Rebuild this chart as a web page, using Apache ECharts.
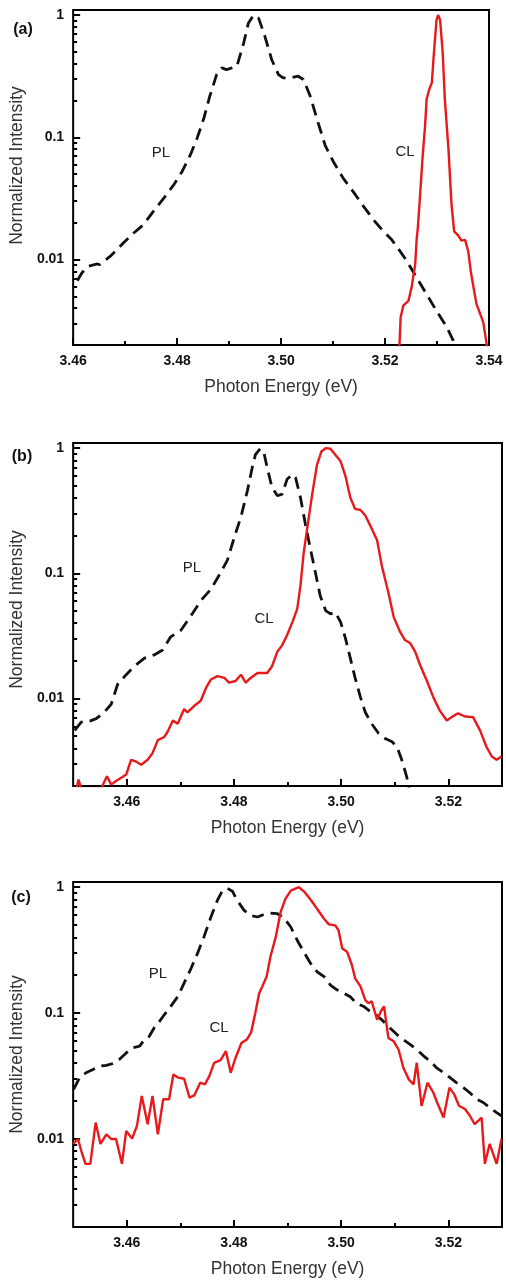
<!DOCTYPE html>
<html>
<head>
<meta charset="utf-8">
<script src="https://cdn.jsdelivr.net/npm/echarts@6/dist/echarts.min.js"></script>
<style>
html,body{margin:0;padding:0;background:#fff;}
#chart{width:506px;height:1281px;}
</style>
</head>
<body>
<div id="chart"></div>
<script>
// ---------- data ----------
const panelLabels = ['(a)', '(b)', '(c)'];
const seriesNames = ['PL', 'CL'];
const xAxisName = 'Photon Energy (eV)';
const yAxisName = 'Normalized Intensity';

const xRangeA = [3.46, 3.54];
const xRangeBC = [3.45, 3.53];
const yRange = [0.002, 1.1];

const xMajorA = [3.46, 3.48, 3.50, 3.52, 3.54];
const xMinorA = [3.47, 3.49, 3.51, 3.53];
const xMajorBC = [3.46, 3.48, 3.50, 3.52];
const xMinorBC = [3.47, 3.49, 3.51];
const yMajor = [0.01, 0.1, 1];
const yMinor = [0.003, 0.004, 0.005, 0.006, 0.007, 0.008, 0.009,
                0.02, 0.03, 0.04, 0.05, 0.06, 0.07, 0.08, 0.09,
                0.2, 0.3, 0.4, 0.5, 0.6, 0.7, 0.8, 0.9];

// Panel (a)
const plEnergyA = [3.4608,3.4617,3.4629,3.4645,3.4651,3.4671,3.4697,3.4716,3.4735,3.4754,3.4774,3.4793,3.4809,3.4825,3.4838,3.4851,3.4863,3.4876,3.4886,3.4895,3.4915,3.4928,3.4937,3.4947,3.4957,3.4969,3.4982,3.4995,3.5004,3.5017,3.5033,3.5043,3.5056,3.5069,3.5085,3.5101,3.5120,3.5139,3.5159,3.5178,3.5197,3.5213,3.5229,3.5242,3.5261,3.5280,3.5299,3.5319,3.5331,3.5336];
const plIntensityA = [0.0067,0.0078,0.0088,0.0092,0.0091,0.0106,0.0137,0.0164,0.0192,0.0247,0.0316,0.0406,0.052,0.071,0.097,0.141,0.218,0.326,0.37,0.358,0.381,0.589,0.856,1.0,0.94,0.667,0.431,0.326,0.306,0.306,0.316,0.297,0.218,0.141,0.0856,0.0627,0.0459,0.0358,0.0271,0.0211,0.017,0.0145,0.0117,0.0097,0.0071,0.0052,0.0038,0.0028,0.00218,0.0018];
const clEnergyA = [3.5226,3.5228,3.5230,3.5235,3.5245,3.5251,3.5258,3.5261,3.5263,3.5267,3.5272,3.5277,3.5280,3.5285,3.5290,3.5294,3.5299,3.5302,3.5306,3.5311,3.5315,3.5322,3.5328,3.5333,3.5341,3.5347,3.5354,3.5360,3.5365,3.5368,3.5376,3.5383,3.5389,3.5395,3.5398];
const clIntensityA = [0.0015,0.0021,0.00336,0.00419,0.00459,0.0059,0.0091,0.015,0.018,0.0316,0.0667,0.124,0.205,0.246,0.279,0.489,0.91,1.0,0.91,0.489,0.205,0.0804,0.0279,0.017,0.0157,0.0143,0.0145,0.0117,0.0080,0.0067,0.0043,0.0036,0.00306,0.0021,0.0015];

// Panel (b)
const plEnergyB = [3.4503,3.4515,3.4531,3.4543,3.4558,3.4571,3.4583,3.4599,3.4614,3.4633,3.4651,3.4667,3.4682,3.4701,3.4720,3.4738,3.4757,3.4775,3.4788,3.4800,3.4813,3.4825,3.4834,3.4840,3.4849,3.4856,3.4862,3.4871,3.4881,3.4890,3.4899,3.4909,3.4915,3.4924,3.4933,3.4943,3.4952,3.4961,3.4971,3.4980,3.4989,3.4999,3.5008,3.5017,3.5026,3.5036,3.5045,3.5057,3.5070,3.5082,3.5095,3.5104,3.5113,3.5122,3.5128];
const plIntensityB = [0.00557,0.00648,0.0066,0.0069,0.00776,0.0090,0.013,0.0155,0.0181,0.021,0.0223,0.0244,0.0311,0.0351,0.046,0.0604,0.0746,0.101,0.128,0.19,0.282,0.456,0.697,0.887,0.99,0.913,0.697,0.485,0.417,0.43,0.564,0.617,0.58,0.404,0.25,0.154,0.101,0.066,0.0504,0.0475,0.0489,0.0408,0.0302,0.021,0.0146,0.0102,0.00776,0.00628,0.00525,0.00479,0.00451,0.00412,0.00324,0.00239,0.0018];
const clEnergyB = [3.4505,3.4510,3.4515,3.4552,3.4563,3.4571,3.4580,3.4589,3.4599,3.4608,3.4617,3.4627,3.4639,3.4648,3.4658,3.4670,3.4676,3.4686,3.4695,3.4707,3.4713,3.4726,3.4738,3.4748,3.4757,3.4769,3.4782,3.4791,3.4803,3.4813,3.4822,3.4831,3.4844,3.4862,3.4871,3.4881,3.4890,3.4899,3.4909,3.4918,3.4924,3.4930,3.4937,3.4946,3.4955,3.4963,3.4971,3.4980,3.4989,3.4999,3.5008,3.5017,3.5026,3.5036,3.5045,3.5054,3.5067,3.5076,3.5088,3.5098,3.5110,3.5119,3.5129,3.5138,3.5147,3.5160,3.5172,3.5184,3.5197,3.5206,3.5218,3.5231,3.5246,3.5259,3.5271,3.5281,3.5290,3.5299];
const clIntensityB = [0.0018,0.00225,0.0019,0.0019,0.00239,0.00205,0.00219,0.00232,0.00247,0.00324,0.00314,0.00296,0.00324,0.00365,0.00465,0.00493,0.0054,0.00667,0.00628,0.00824,0.00776,0.00875,0.0096,0.0122,0.0142,0.0151,0.0146,0.0134,0.0138,0.0155,0.0134,0.0146,0.016,0.016,0.0181,0.0237,0.0267,0.032,0.0408,0.052,0.0793,0.145,0.235,0.43,0.74,0.94,1.0,0.99,0.887,0.785,0.599,0.404,0.327,0.321,0.29,0.242,0.184,0.114,0.0703,0.0447,0.034,0.0293,0.0276,0.0237,0.0186,0.0138,0.0102,0.008,0.00667,0.0071,0.00762,0.00718,0.0071,0.00557,0.00412,0.00344,0.00324,0.00344];

// Panel (c)
const plEnergyC = [3.4501,3.4512,3.4524,3.4537,3.4549,3.4562,3.4574,3.4586,3.4599,3.4611,3.4624,3.4633,3.4642,3.4651,3.4661,3.4670,3.4682,3.4695,3.4707,3.4720,3.4732,3.4744,3.4757,3.4769,3.4778,3.4788,3.4797,3.4806,3.4819,3.4831,3.4844,3.4856,3.4868,3.4881,3.4893,3.4906,3.4918,3.4930,3.4943,3.4955,3.4968,3.4980,3.4992,3.5005,3.5017,3.5029,3.5042,3.5054,3.5067,3.5079,3.5091,3.5104,3.5116,3.5129,3.5141,3.5153,3.5166,3.5178,3.5191,3.5203,3.5215,3.5228,3.5240,3.5253,3.5265,3.5277,3.5290,3.5299];
const plIntensityC = [0.0248,0.0307,0.0336,0.0357,0.0379,0.0384,0.0398,0.0428,0.0483,0.053,0.0546,0.0616,0.0654,0.0762,0.0859,0.097,0.113,0.135,0.173,0.227,0.298,0.403,0.58,0.785,0.93,0.98,0.93,0.785,0.655,0.597,0.58,0.608,0.623,0.616,0.573,0.483,0.379,0.307,0.248,0.213,0.195,0.167,0.153,0.144,0.135,0.119,0.113,0.103,0.0953,0.0859,0.0762,0.0675,0.0616,0.0562,0.0514,0.046,0.0415,0.0368,0.0336,0.0307,0.028,0.0256,0.0233,0.0207,0.0195,0.0178,0.0162,0.0153];
const clEnergyC = [3.4500,3.4509,3.4515,3.4523,3.4532,3.4542,3.4551,3.4562,3.4571,3.4580,3.4591,3.4599,3.4610,3.4619,3.4628,3.4639,3.4648,3.4658,3.4668,3.4679,3.4687,3.4696,3.4707,3.4717,3.4726,3.4737,3.4746,3.4754,3.4763,3.4775,3.4785,3.4794,3.4803,3.4814,3.4824,3.4832,3.4840,3.4847,3.4853,3.4861,3.4868,3.4878,3.4887,3.4896,3.4906,3.4921,3.4932,3.4943,3.4955,3.4968,3.4977,3.4989,3.4995,3.5002,3.5011,3.5020,3.5026,3.5036,3.5045,3.5051,3.5057,3.5067,3.5074,3.5080,3.5088,3.5098,3.5107,3.5116,3.5126,3.5135,3.5141,3.5150,3.5161,3.5172,3.5179,3.5191,3.5202,3.5211,3.5220,3.5231,3.5240,3.5249,3.5262,3.5268,3.5277,3.5290,3.5299];
const clIntensityC = [0.00914,0.01,0.0081,0.00635,0.00635,0.0135,0.00914,0.0109,0.01,0.01,0.00635,0.0116,0.0101,0.0127,0.022,0.0131,0.022,0.0109,0.0207,0.0207,0.0326,0.0307,0.0301,0.0213,0.0222,0.028,0.0272,0.0316,0.0403,0.0423,0.0498,0.0336,0.0442,0.058,0.0616,0.0703,0.101,0.144,0.163,0.195,0.28,0.403,0.635,0.809,0.94,1.0,0.913,0.794,0.675,0.562,0.507,0.498,0.455,0.326,0.307,0.241,0.189,0.163,0.127,0.12,0.124,0.0886,0.103,0.113,0.0635,0.0597,0.0514,0.0368,0.0298,0.0272,0.0403,0.0183,0.028,0.0233,0.0195,0.0148,0.0256,0.0226,0.0183,0.0173,0.0153,0.0131,0.0148,0.00635,0.00914,0.00635,0.01];

// ---------- layout / style ----------
const FONT = '"Liberation Sans", Arial, sans-serif';
const panels = [
  { grid: {left: 73, top: 10, width: 416, height: 335}, xr: xRangeA, xMaj: xMajorA, xMin: xMinorA,
    pl: [plEnergyA, plIntensityA], cl: [clEnergyA, clIntensityA],
    lab: [23, 30], plPos: [161, 153], clPos: [405, 152], namePad: [0, 0, 0, 24] },
  { grid: {left: 72, top: 443, width: 430, height: 343}, xr: xRangeBC, xMaj: xMajorBC, xMin: xMinorBC,
    pl: [plEnergyB, plIntensityB], cl: [clEnergyB, clIntensityB],
    lab: [22, 457], plPos: [192, 568], clPos: [264, 619], namePad: [0, 0, 0, 10] },
  { grid: {left: 72, top: 882, width: 430, height: 345}, xr: xRangeBC, xMaj: xMajorBC, xMin: xMinorBC,
    pl: [plEnergyC, plIntensityC], cl: [clEnergyC, clIntensityC],
    lab: [21, 898], plPos: [158, 974], clPos: [219, 1028], namePad: [0, 0, 0, 0] }
];

function zip(xs, ys) {
  const n = Math.min(xs.length, ys.length);
  const out = [];
  for (let i = 0; i < n; i++) out.push([xs[i], ys[i]]);
  return out;
}

const grids = [], xAxes = [], yAxes = [], series = [], graphics = [];
const tickLine = {color: '#000', width: 2};

panels.forEach((p, i) => {
  grids.push(Object.assign({show: true, borderColor: '#000', borderWidth: 2, backgroundColor: 'transparent'}, p.grid));
  // major x
  xAxes.push({
    type: 'value', gridIndex: i, position: 'bottom', min: p.xr[0], max: p.xr[1],
    axisLine: {show: false}, splitLine: {show: false},
    axisTick: {inside: true, length: 7, lineStyle: tickLine, customValues: p.xMaj},
    axisLabel: {customValues: p.xMaj, formatter: v => Number(v).toFixed(2),
      fontFamily: FONT, fontWeight: 'bold', fontSize: 14, color: '#111', margin: 9},
    name: xAxisName, nameLocation: 'middle', nameGap: 33,
    nameTextStyle: {fontFamily: FONT, fontSize: 17.5, color: '#333'}
  });
  // minor x
  xAxes.push({
    type: 'value', gridIndex: i, position: 'bottom', min: p.xr[0], max: p.xr[1],
    axisLine: {show: false}, splitLine: {show: false}, axisLabel: {show: false},
    axisTick: {inside: true, length: 4, lineStyle: tickLine, customValues: p.xMin}
  });
  // major y
  yAxes.push({
    type: 'log', logBase: 10, gridIndex: i, position: 'left', min: yRange[0], max: yRange[1],
    axisLine: {show: false}, splitLine: {show: false},
    axisTick: {inside: true, length: 7, lineStyle: tickLine, customValues: yMajor},
    axisLabel: {customValues: yMajor, formatter: v => String(parseFloat(Number(v).toPrecision(3))),
      fontFamily: FONT, fontWeight: 'bold', fontSize: 14, color: '#111', margin: 9},
    name: yAxisName, nameLocation: 'middle', nameGap: 44,
    nameTextStyle: {fontFamily: FONT, fontSize: 17.5, color: '#333', padding: p.namePad}
  });
  // minor y
  yAxes.push({
    type: 'log', logBase: 10, gridIndex: i, position: 'left', min: yRange[0], max: yRange[1],
    axisLine: {show: false}, splitLine: {show: false}, axisLabel: {show: false},
    axisTick: {inside: true, length: 4, lineStyle: tickLine, customValues: yMinor}
  });

  series.push({
    name: seriesNames[0], type: 'line', xAxisIndex: 2 * i, yAxisIndex: 2 * i,
    data: zip(p.pl[0], p.pl[1]), showSymbol: false, symbol: 'none', clip: true,
    lineStyle: {color: '#111', width: 2.8, type: [12, 7]}, z: 3
  });
  series.push({
    name: seriesNames[1], type: 'line', xAxisIndex: 2 * i, yAxisIndex: 2 * i,
    data: zip(p.cl[0], p.cl[1]), showSymbol: false, symbol: 'none', clip: true,
    lineStyle: {color: '#e8191b', width: 2.4}, z: 4
  });

  graphics.push({type: 'text', x: p.lab[0], y: p.lab[1],
    style: {text: panelLabels[i], font: 'bold 16px ' + FONT, fill: '#111', align: 'center', verticalAlign: 'middle'}});
  graphics.push({type: 'text', x: p.plPos[0], y: p.plPos[1],
    style: {text: seriesNames[0], font: '15px ' + FONT, fill: '#222', align: 'center', verticalAlign: 'middle'}});
  graphics.push({type: 'text', x: p.clPos[0], y: p.clPos[1],
    style: {text: seriesNames[1], font: '15px ' + FONT, fill: '#222', align: 'center', verticalAlign: 'middle'}});
});

const chart = echarts.init(document.getElementById('chart'), null, {renderer: 'canvas'});
chart.setOption({
  animation: false,
  backgroundColor: '#fff',
  grid: grids,
  xAxis: xAxes,
  yAxis: yAxes,
  series: series,
  graphic: graphics
});
</script>
</body>
</html>
